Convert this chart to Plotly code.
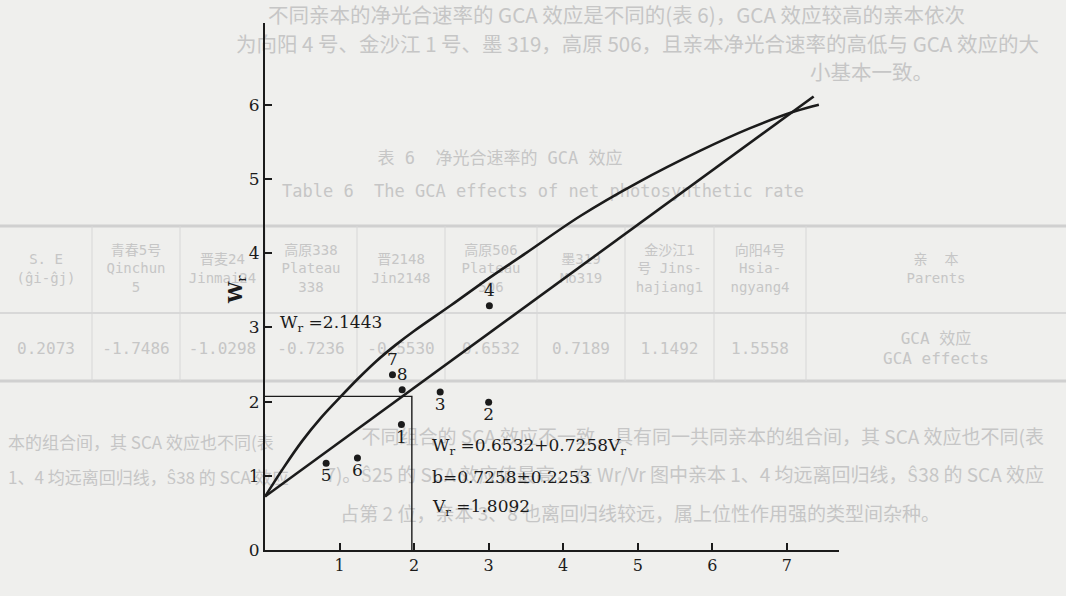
import plotly.graph_objects as go

# ---------------- data ----------------
point_ids = ["1", "2", "3", "4", "5", "6", "7", "8"]
point_vr = [1.83, 3.00, 2.35, 3.01, 0.82, 1.24, 1.71, 1.84]
point_wr = [1.69, 1.99, 2.13, 3.29, 1.17, 1.24, 2.36, 2.16]
label_side = ["bottom center", "bottom center", "bottom center", "top center",
              "bottom center", "bottom center", "top center", "top center"]

# regression line as drawn (Wr = 0.6532 + 0.7258 Vr)
reg_vr = [0.0, 7.36]
reg_wr = [0.72, 6.11]

# limiting curve as drawn
curve_vr = [0.0, 0.25, 0.50, 0.75, 1.00, 1.25, 1.50, 1.75, 2.00, 2.50, 3.00, 3.50,
            4.23, 5.00, 5.84, 6.50, 7.11, 7.43]
curve_wr = [0.72, 1.11, 1.47, 1.78, 2.05, 2.31, 2.55, 2.76, 2.95, 3.30, 3.66, 4.00,
            4.50, 4.95, 5.38, 5.68, 5.91, 6.00]

# reference corner lines
corner_vr = [0.0, 1.97, 1.97]
corner_wr = [2.07, 2.07, 0.0]

x_ticks = [1, 2, 3, 4, 5, 6, 7]
y_ticks = [0, 1, 2, 3, 4, 5, 6]

eq_wr_mean = "W<sub>r</sub> =2.1443"
eq_reg = "W<sub>r</sub> =0.6532+0.7258V<sub>r</sub>"
eq_b = "b=0.7258±0.2253"
eq_vr_mean = "V<sub>r</sub> =1.8092"

# faint page text (show-through of the scanned page)
page_top = [
    "不同亲本的净光合速率的 GCA 效应是不同的(表 6)，GCA 效应较高的亲本依次",
    "为向阳 4 号、金沙江 1 号、墨 319，高原 506，且亲本净光合速率的高低与 GCA 效应的大",
    "小基本一致。",
]
page_mid = [
    "不同组合的 SCA 效应不一致，具有同一共同亲本的组合间，其 SCA 效应也不同(表",
    "7)。Ŝ25 的 SCA 效应值最高，在 Wr/Vr 图中亲本 1、4 均远离回归线，Ŝ38 的 SCA 效应",
    "占第 2 位，亲本 3、8 也离回归线较远，属上位性作用强的类型间杂种。",
]
page_left = [
    "本的组合间，其 SCA 效应也不同(表",
    "1、4 均远离回归线，Ŝ38 的 SCA 效应",
]
table_title_cn = "表 6  净光合速率的 GCA 效应"
table_title_en = "Table 6  The GCA effects of net photosynthetic rate"
table_headers = ["S. E<br>(ĝi-ĝj)", "青春5号<br>Qinchun<br>5", "晋麦24<br>Jinmai24",
                 "高原338<br>Plateau<br>338", "晋2148<br>Jin2148", "高原506<br>Plateau<br>506",
                 "墨319<br>Mo319", "金沙江1<br>号 Jins-<br>hajiang1", "向阳4号<br>Hsia-<br>ngyang4",
                 "亲  本<br>Parents"]
table_values = ["0.2073", "-1.7486", "-1.0298", "-0.7236", "-0.5530", "0.6532",
                "0.7189", "1.1492", "1.5558", "GCA 效应<br>GCA effects"]

# ---------------- geometry (page 1066 x 596) ----------------
W, H = 1066, 596
L, R, T, B = 265, 227, 23, 46
XMAX, YMAX = 7.7, 7.1

PAPER = "#efefed"
INK = "#1b1b1b"
FAINT = "#c6c6c6"
SERIF = "DejaVu Serif"
CJK = "Noto Sans CJK SC"
MONO = "DejaVu Sans Mono, Noto Sans CJK SC"

fig = go.Figure()

# ---- background layer (page-pixel coordinates on subplot x/y) ----
fig.add_trace(go.Scatter(
    x=[268, 236, 810], y=[18, 47, 75], text=page_top, mode="text",
    textposition="middle right", textfont=dict(family=CJK, size=20.5, color=FAINT),
    xaxis="x", yaxis="y", hoverinfo="skip", showlegend=False))
fig.add_trace(go.Scatter(
    x=[1044, 1044, 940], y=[439, 477, 516], text=page_mid, mode="text",
    textposition="middle left", textfont=dict(family=CJK, size=19, color=FAINT),
    xaxis="x", yaxis="y", hoverinfo="skip", showlegend=False))
fig.add_trace(go.Scatter(
    x=[8, 8], y=[445, 480], text=page_left, mode="text",
    textposition="middle right", textfont=dict(family=CJK, size=17, color=FAINT),
    xaxis="x", yaxis="y", hoverinfo="skip", showlegend=False))

col_edges = [0, 92, 180, 265, 357, 445, 537, 625, 714, 806, 1066]
col_centers = [(col_edges[i] + col_edges[i + 1]) / 2 for i in range(len(col_edges) - 1)]
fig.add_trace(go.Scatter(
    x=col_centers, y=[270] * len(col_centers), text=table_headers,
    mode="text", textposition="middle center",
    textfont=dict(family=MONO, size=14, color=FAINT),
    xaxis="x", yaxis="y", hoverinfo="skip", showlegend=False))
fig.add_trace(go.Scatter(
    x=col_centers, y=[350] * len(col_centers), text=table_values,
    mode="text", textposition="middle center",
    textfont=dict(family=MONO, size=16, color=FAINT),
    xaxis="x", yaxis="y", hoverinfo="skip", showlegend=False))
fig.add_trace(go.Scatter(
    x=[500, 543], y=[160, 193], text=[table_title_cn, table_title_en],
    mode="text", textposition="middle center",
    textfont=dict(family=MONO, size=17, color=FAINT),
    xaxis="x", yaxis="y", hoverinfo="skip", showlegend=False))

for yy, wdt in [(226, 3), (313, 1.5), (381, 3)]:
    fig.add_shape(type="line", xref="x", yref="y", layer="below",
                  x0=0, x1=W, y0=yy, y1=yy, line=dict(color="#d0d0d0", width=wdt))
for xx in col_edges[1:-1]:
    fig.add_shape(type="line", xref="x", yref="y", layer="below",
                  x0=xx, x1=xx, y0=226, y1=381, line=dict(color="#d7d7d7", width=1))

# ---- chart layer (data coordinates on subplot x2/y2) ----
fig.add_trace(go.Scatter(x=corner_vr, y=corner_wr, mode="lines", xaxis="x2", yaxis="y2",
                         line=dict(color=INK, width=1.4), hoverinfo="skip", showlegend=False))
fig.add_trace(go.Scatter(x=curve_vr, y=curve_wr, mode="lines", line_shape="spline",
                         xaxis="x2", yaxis="y2",
                         line=dict(color=INK, width=2.6), hoverinfo="skip", showlegend=False))
fig.add_trace(go.Scatter(x=reg_vr, y=reg_wr, mode="lines", xaxis="x2", yaxis="y2",
                         line=dict(color=INK, width=2.6), hoverinfo="skip", showlegend=False))
fig.add_trace(go.Scatter(x=point_vr, y=point_wr, mode="markers+text", text=point_ids,
                         textposition=label_side, xaxis="x2", yaxis="y2",
                         textfont=dict(family=SERIF, size=17, color=INK),
                         marker=dict(color=INK, size=7), hoverinfo="skip", showlegend=False))

sx = (W - L - R) / XMAX
sy = (H - T - B) / YMAX


def dx(px):
    return (px - L) / sx


def dy(py):
    return (H - B - py) / sy


eq_font = dict(family=SERIF, size=17, color=INK)
fig.add_annotation(xref="x2", yref="y2", x=dx(278), y=dy(323), text=eq_wr_mean,
                   showarrow=False, xanchor="left", yanchor="middle", font=eq_font)
fig.add_annotation(xref="x2", yref="y2", x=dx(430), y=dy(446), text=eq_reg,
                   showarrow=False, xanchor="left", yanchor="middle", font=eq_font)
fig.add_annotation(xref="x2", yref="y2", x=dx(430), y=dy(477), text=eq_b,
                   showarrow=False, xanchor="left", yanchor="middle", font=eq_font)
fig.add_annotation(xref="x2", yref="y2", x=dx(430), y=dy(507), text=eq_vr_mean,
                   showarrow=False, xanchor="left", yanchor="middle", font=eq_font)

# axis titles
fig.add_annotation(xref="x", yref="y", x=548, y=598, yanchor="bottom",
                   text="<b>V</b><sub>r</sub>",
                   showarrow=False, font=dict(family=SERIF, size=17, color=INK))
fig.add_annotation(xref="x", yref="y", x=236, y=290, text="<b>W</b><sub>r</sub>",
                   showarrow=False, textangle=-90, font=dict(family=SERIF, size=19, color=INK))

axis_common = dict(showgrid=False, zeroline=False, showline=True, linecolor=INK, linewidth=2,
                   ticks="inside", ticklen=7, tickwidth=1.6, tickcolor=INK, automargin=False)

fig.update_layout(
    width=W, height=H, autosize=False,
    margin=dict(l=0, r=0, t=0, b=0, pad=0, autoexpand=False),
    paper_bgcolor=PAPER, plot_bgcolor="rgba(0,0,0,0)", showlegend=False,
    xaxis=dict(domain=[0, 1], range=[0, W], visible=False, fixedrange=True, automargin=False),
    yaxis=dict(domain=[0, 1], range=[H, 0], visible=False, fixedrange=True, automargin=False),
    xaxis2=dict(domain=[L / W, (W - R) / W], anchor="y2", range=[0, XMAX],
                tickvals=x_ticks, ticktext=[str(v) for v in x_ticks],
                ticklabelstandoff=0, tickfont=dict(family=SERIF, size=16, color=INK),
                **axis_common),
    yaxis2=dict(domain=[B / H, (H - T) / H], anchor="x2", range=[0, YMAX],
                tickvals=y_ticks, ticktext=[str(v) for v in y_ticks],
                tickfont=dict(family=SERIF, size=17, color=INK), **axis_common),
)

fig.write_html(
    "out.html",
    config={"responsive": False, "displayModeBar": False},
    post_script=("var css='margin:0;padding:0;overflow:hidden;background:" + PAPER + ";';"
                 "document.documentElement.style.cssText=css;"
                 "document.body.style.cssText=css;"),
)
